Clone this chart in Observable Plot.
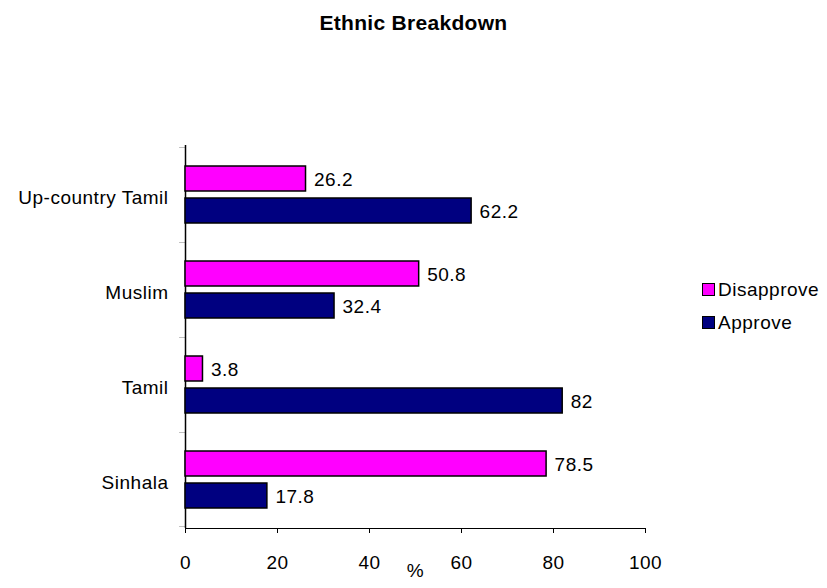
<!DOCTYPE html>
<html>
<head>
<meta charset="utf-8">
<script src="https://cdn.jsdelivr.net/npm/d3@7"></script>
<script src="https://cdn.jsdelivr.net/npm/@observablehq/plot@0.6"></script>
<style>
  body { margin: 0; background: #fff; font-family: "Liberation Sans", Arial, sans-serif; }
  #wrap { position: relative; width: 827px; height: 588px; }
  #title { height: 64px; line-height: 46px; text-align: center; font-weight: bold; font-size: 21px; letter-spacing: 0.3px; color: #000; }
  #legend { position: absolute; left: 702px; top: 273px; font-size: 19px; letter-spacing: 0.5px; color: #000; }
  .item { display: flex; align-items: center; height: 33px; }
  .sw { width: 11px; height: 11px; border: 1.5px solid #000; margin-right: 3px; box-sizing: content-box; }
  svg text { letter-spacing: 0.5px; }
</style>
</head>
<body>
<div id="wrap">
  <div id="title">Ethnic Breakdown</div>
  <div id="chart"></div>
  <div id="legend"></div>
</div>
<script>
const categories = ["Up-country Tamil", "Muslim", "Tamil", "Sinhala"];
const disapprove = [26.2, 50.8, 3.8, 78.5];
const approve = [62.2, 32.4, 82, 17.8];
const seriesNames = ["Disapprove", "Approve"];
const seriesColors = ["#ff00ff", "#000080"];
const xTicks = [0, 20, 40, 60, 80, 100];

const dis = categories.map((c, i) => ({category: c, value: disapprove[i]}));
const app = categories.map((c, i) => ({category: c, value: approve[i]}));

const font = "Liberation Sans, Arial, sans-serif";
const chart = Plot.plot({
  width: 827,
  height: 524,
  marginTop: 81,
  marginBottom: 60,
  marginLeft: 185,
  marginRight: 182,
  style: {fontFamily: font, fontSize: "19px", color: "#000", background: "#fff"},
  x: {domain: [0, 100], ticks: xTicks, tickSize: 5, tickPadding: 22, label: null, line: true},
  y: {domain: categories, padding: 0, axis: null},
  marks: [
    Plot.ruleX([0], {stroke: "#000", strokeWidth: 1.5}),
    // boundary ticks on the category axis
    Plot.rect(categories, {y: d => d, x1: -1.3, x2: 0, insetBottom: 94.75, fill: "#000"}),
    Plot.rect(categories.slice(-1), {y: d => d, x1: -1.3, x2: 0, insetTop: 94.75, fill: "#000"}),
    // category labels
    Plot.text(categories, {y: d => d, x: 0, text: d => d, textAnchor: "end", dx: -17, dy: 3, fill: "#000"}),
    Plot.barX(dis, {y: "category", x: "value", fill: seriesColors[0], stroke: "#000", strokeWidth: 1.5, insetTop: 19, insetBottom: 51}),
    Plot.barX(app, {y: "category", x: "value", fill: seriesColors[1], stroke: "#000", strokeWidth: 1.5, insetTop: 51, insetBottom: 19}),
    Plot.text(dis, {y: "category", x: "value", text: d => String(d.value), textAnchor: "start", dx: 8, dy: -15, fill: "#000"}),
    Plot.text(app, {y: "category", x: "value", text: d => String(d.value), textAnchor: "start", dx: 8, dy: 17, fill: "#000"}),
    Plot.text(["%"], {frameAnchor: "bottom", dy: 48, fill: "#000"})
  ]
});
document.getElementById("chart").appendChild(chart);

const legend = document.getElementById("legend");
seriesNames.forEach((n, i) => {
  const it = document.createElement("div");
  it.className = "item";
  const sw = document.createElement("span");
  sw.className = "sw";
  sw.style.background = seriesColors[i];
  it.appendChild(sw);
  it.appendChild(document.createTextNode(n));
  legend.appendChild(it);
});
</script>
</body>
</html>
